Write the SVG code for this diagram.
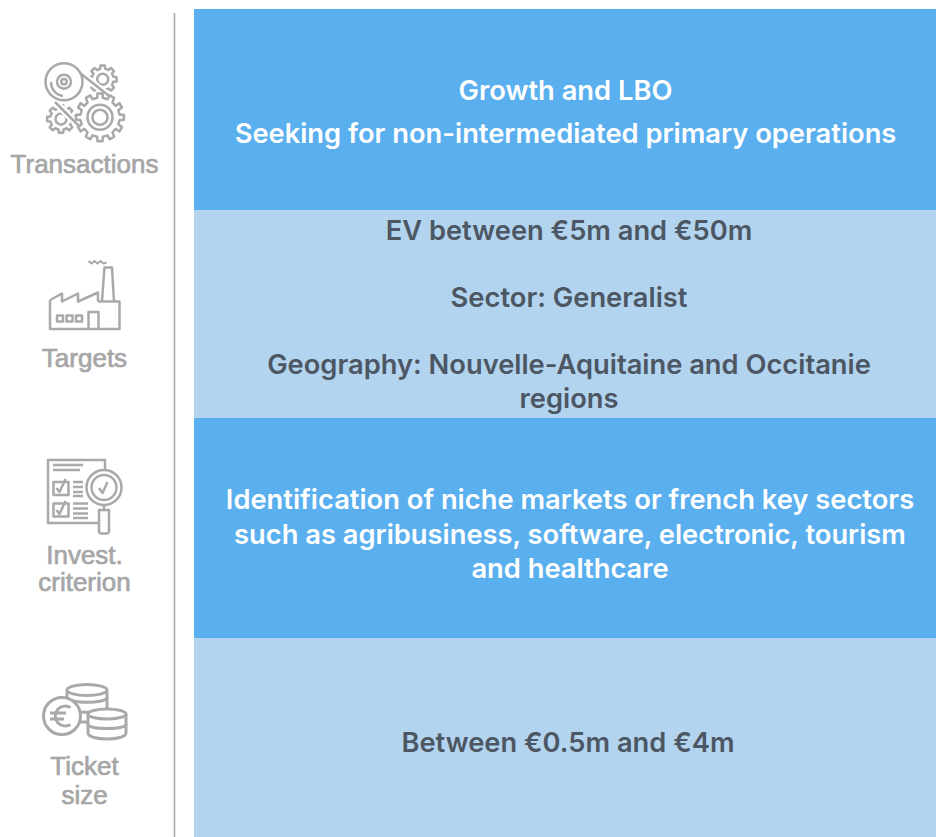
<svg xmlns="http://www.w3.org/2000/svg" width="936" height="837" viewBox="0 0 936 837">
<style>
.main{font-family:Inter,"Liberation Sans",sans-serif;font-size:27.300px;font-weight:600;text-anchor:middle}
.w{fill:#fff}.d{fill:#4d5764}
.lab{font-family:"Liberation Sans",Arial,sans-serif;font-size:26px;font-weight:400;fill:#a6a6a6;stroke:#a6a6a6;stroke-width:.7;text-anchor:middle}
.ic{fill:none;stroke:#a9a9a9;stroke-width:2.500;stroke-linejoin:round}
.ic .f{fill:#fff}
.g{fill:#fff;vector-effect:non-scaling-stroke}
</style>
<defs>
<path id="g8" class="g" d="M.76-.175L.988-.156.988.156.76.175.661.413.809.588.588.809.413.661.175.76.156.988-.156.988-.175.76-.413.661-.588.809-.809.588-.661.413-.76.175-.988.156-.988-.156-.76-.175-.661-.413-.809-.588-.588-.809-.413-.661-.175-.76-.156-.988.156-.988.175-.76.413-.661.588-.809.809-.588.661-.413Z"/>
<path id="g12" class="g" d="M.82-.108L.995-.105.995.105.82.108.763.292.914.407.809.588.655.48.52.615.588.809.407.914.312.753.118.812.105.995-.105.995-.118.812-.312.753-.407.914-.588.809-.52.615-.655.48-.809.588-.914.407-.763.292-.82.108-.995.105-.995-.105-.82-.108-.763-.292-.914-.407-.809-.588-.655-.48-.52-.615-.588-.809-.407-.914-.312-.753-.118-.812-.105-.995.105-.995.118-.812.312-.753.407-.914.588-.809.52-.615.655-.48.809-.588.914-.407.763-.292Z"/>
</defs>
<rect width="936" height="837" fill="#fff"/>
<g id="connectors"><line x1="174.500" y1="13" x2="174.500" y2="837" stroke="#a6a6a6" stroke-width="1.500"/></g>

<g id="panel-transactions"><rect x="194" y="9" width="742" height="201" fill="#5aafee"/>
<text class="main w" x="565.500" y="100">Growth and LBO</text>
<text class="main w" x="565.500" y="143">Seeking for non-intermediated primary operations</text></g>
<g id="panel-targets"><rect x="194" y="210" width="742" height="208" fill="#b3d4ef"/>
<text class="main d" x="569" y="240">EV between €5m and €50m</text>
<text class="main d" x="569" y="307">Sector: Generalist</text>
<text class="main d" x="569" y="374">Geography: Nouvelle-Aquitaine and Occitanie</text>
<text class="main d" x="569" y="408">regions</text></g>
<g id="panel-criterion"><rect x="194" y="418" width="742" height="220" fill="#5aafee"/>
<text class="main w" x="570" y="509">Identification of niche markets or french key sectors</text>
<text class="main w" x="570" y="544">such as agribusiness, software, electronic, tourism</text>
<text class="main w" x="570" y="578">and healthcare</text></g>
<g id="panel-ticket"><rect x="194" y="638" width="742" height="199" fill="#b3d4ef"/>
<text class="main d" x="568" y="752">Between €0.5m and €4m</text></g>

<g id="node-transactions">
<g class="ic">
<use href="#g8" transform="translate(102.700 79.300) scale(14)"/>
<circle class="f" cx="102.700" cy="79.300" r="5.500"/>
<use href="#g8" transform="translate(61 119) scale(14)"/>
<circle class="f" cx="61" cy="119" r="5.500"/>
<path d="M80 73L113 99M55 102L80 127" stroke="#fff" stroke-width="7"/>
<path d="M80 73L113 99M55 102L80 127"/>
<use href="#g12" transform="translate(100 117.300) scale(24)"/>
<circle cx="100" cy="117.300" r="12.500"/><circle cx="100" cy="117.300" r="7.500"/>
<circle class="f" cx="64" cy="81.700" r="18.500"/>
<circle cx="64" cy="81.700" r="7"/><circle cx="64" cy="81.700" r="2.700"/>
<path d="M51 82a14 14 0 0 0 12 14"/>
</g>
<text class="lab" x="84.500" y="173">Transactions</text></g>

<g id="node-targets">
<g class="ic">
<path d="M50 300V329H119.500V301.500H98M50 300L62 293.500V301.500L78 293.500V301.500L98 292.500V301.500"/>
<path d="M102 301L104.500 267.500H112L114 301.500"/>
<path d="M88.500 261l3 2.500 3-2.500 3 2.500 3-2.500 3 2.500 3-1" stroke-width="2"/>
<rect x="57" y="315.500" width="6" height="6"/><rect x="66.500" y="315.500" width="6" height="6"/><rect x="76" y="315.500" width="6" height="6"/>
<path d="M88.500 329V312H98.500V329"/>
</g>
<text class="lab" x="84.500" y="367">Targets</text></g>

<g id="node-criterion">
<g class="ic">
<path d="M105 472V460H48V523H98"/>
<path d="M53 465H83M53 470H80" />
<rect x="53.500" y="482" width="15" height="13"/><rect x="53.500" y="503.500" width="15" height="13"/>
<path d="M56.500 488l3 4 6-13M56.500 510l3 4 6-13"/>
<path d="M73 482H83M73 487H83M73 492H83M73 496H83M73 503.500H88M73 508.500H88M73 513.500H88M73 518H88"/>
<circle class="f" cx="104" cy="487.500" r="17.500"/><circle cx="104" cy="487.500" r="12.500"/>
<path d="M99 488l3.500 5 5-11"/>
<path d="M104 505V510M99 510H109V531a2.500 2.500 0 0 1-2.500 2.500h-5a2.500 2.500 0 0 1-2.500-2.500Z"/>
</g>
<text class="lab" x="84.500" y="563.500">Invest.</text>
<text class="lab" x="84.500" y="591">criterion</text></g>

<g id="node-ticket">
<g class="ic" style="stroke-width:3">
<path class="f" d="M67 690V722H107V690"/>
<ellipse class="f" cx="87" cy="690" rx="20" ry="5.500"/>
<path d="M67 697c0 7 40 7 40 0M67 707c0 7 40 7 40 0"/>
<path class="f" d="M88 714V733c0 8 38 8 38 0V714"/>
<ellipse class="f" cx="107" cy="714" rx="19" ry="5"/>
<path d="M88 724c0 6 38 6 38 0"/>
<circle class="f" cx="62" cy="716" r="18.500"/>
<path d="M70.500 707.500a10 10 0 1 0 0 17M50 713H66M50 719H64"/>
</g>
<text class="lab" x="84.500" y="775">Ticket</text>
<text class="lab" x="84.500" y="804">size</text></g>
</svg>
